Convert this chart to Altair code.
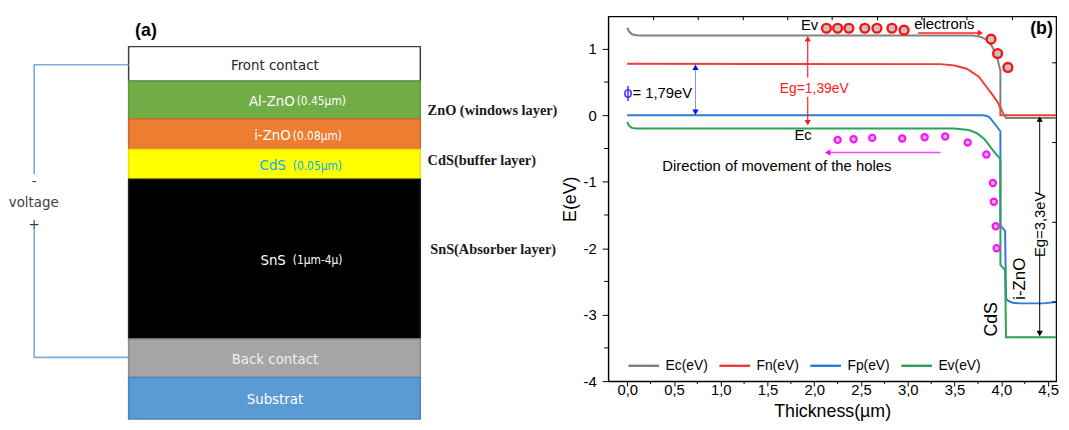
import altair as alt
import pandas as pd

FONT = "Liberation Sans"
NARROW = "Liberation Sans Narrow, DejaVu Sans Condensed, Roboto Condensed, Liberation Sans"
SERIF = "Liberation Serif"

# ------------------------------------------------------------------
# Panel (b): band diagram values
# ------------------------------------------------------------------
series_names = ["Ec(eV)", "Fn(eV)", "Fp(eV)", "Ev(eV)"]
series_colors = ["#808080", "#f03c3c", "#2f7bdc", "#2ea05a"]

ec_x = [0.0, 0.02, 0.05, 0.10, 0.15, 3.70, 3.78, 3.84, 3.90, 3.95, 3.99, 3.99, 4.02, 4.05, 4.585]
ec_y = [1.32, 1.26, 1.22, 1.205, 1.20, 1.20, 1.18, 1.14, 1.04, 0.90, 0.67, 0.13, 0.03, -0.04, -0.04]

fn_x = [0.0, 3.35, 3.50, 3.63, 3.76, 3.84, 3.91, 3.97, 3.99, 3.99, 4.585]
fn_y = [0.775, 0.77, 0.75, 0.70, 0.58, 0.43, 0.30, 0.18, 0.10, 0.0, 0.0]

fp_x = [0.0, 3.80, 3.85, 3.88, 3.99, 3.99, 4.04, 4.05, 4.07, 4.12, 4.20, 4.45, 4.585]
fp_y = [0.0, 0.0, -0.01, -0.04, -0.24, -1.66, -1.74, -2.75, -2.79, -2.82, -2.83, -2.83, -2.81]

ev_x = [0.0, 0.02, 0.05, 0.10, 0.15, 3.50, 3.65, 3.74, 3.82, 3.88, 3.94, 3.99, 3.99, 4.04, 4.05, 4.585]
ev_y = [-0.10, -0.16, -0.19, -0.20, -0.20, -0.20, -0.22, -0.27, -0.36, -0.47, -0.58, -0.66, -2.25, -2.33, -3.34, -3.34]

electron_x = [2.13, 2.25, 2.37, 2.54, 2.67, 2.83, 2.96, 3.89, 3.96, 4.07]
electron_y = [1.31, 1.31, 1.31, 1.31, 1.31, 1.31, 1.28, 1.146, 0.93, 0.72]

hole_x = [2.25, 2.42, 2.62, 2.94, 3.18, 3.40, 3.64, 3.84, 3.91, 3.92, 3.94, 3.95]
hole_y = [-0.37, -0.36, -0.34, -0.35, -0.33, -0.32, -0.41, -0.59, -1.02, -1.30, -1.67, -2.0]

x_major = [0.0, 0.5, 1.0, 1.5, 2.0, 2.5, 3.0, 3.5, 4.0, 4.5]
x_minor = [0.25, 0.75, 1.25, 1.75, 2.25, 2.75, 3.25, 3.75, 4.25]
y_major = [-4, -3, -2, -1, 0, 1]
y_minor = [-3.5, -2.5, -1.5, -0.5, 0.5]
top_ticks = [0.282, 0.759, 1.241, 1.716, 2.191, 2.676, 3.151, 3.633, 4.118]
right_ticks = [0.79, -0.41, -1.61, -2.81]

# annotations (text, x, y, colour, size)
labels_b = [
    ("Ev", 1.95, 1.36, "black", 15),
    ("Ec", 1.88, -0.29, "black", 15),
    ("Eg=1,39eV", 2.00, 0.39, "#ff2020", 14),
    ("electrons", 3.39, 1.37, "black", 15),
    ("Direction of movement of the holes", 1.60, -0.77, "black", 15),
    ("= 1,79eV", 0.375, 0.34, "black", 15),
    ("\u03d5", 0.008, 0.34, "#1a1aff", 16),
]
labels_b_rot = [
    ("Eg=3,3eV", 4.41, -1.64, "black", 15),
    ("i-ZnO", 4.195, -2.46, "black", 17),
    ("CdS", 3.90, -3.07, "black", 18),
]
# arrow shafts (x, y, x2, y2, colour, width)
shafts = [
    (1.93, 1.17, 1.93, 0.57, "#ff2020", 1.2),
    (1.93, 0.28, 1.93, -0.12, "#ff2020", 1.2),
    (0.73, 0.74, 0.73, 0.03, "#8090ff", 1.0),
    (4.41, -0.03, 4.41, -1.19, "black", 1.0),
    (4.41, -2.10, 4.41, -3.31, "black", 1.0),
    (3.11, 1.24, 3.76, 1.24, "#ff2020", 1.5),
    (2.15, -0.56, 3.35, -0.56, "#ff44ff", 1.5),
]
# arrow tips (x, y, direction, colour)
tips = [
    (1.93, 1.20, "up", "#ff2020"),
    (1.93, -0.16, "down", "#ff2020"),
    (0.73, 0.77, "up", "#0010ff"),
    (0.73, 0.00, "down", "#0010ff"),
    (4.41, -0.01, "up", "black"),
    (4.41, -3.33, "down", "black"),
    (3.81, 1.24, "right", "#ff2020"),
    (2.11, -0.56, "left", "#ff00ff"),
]

# ------------------------------------------------------------------
# Panel (b) chart
# ------------------------------------------------------------------
XMIN, XMAX = -0.2036, 4.585
YMIN, YMAX = -4.0, 1.49
WB, HB = 453, 369
PX_X = WB / (XMAX - XMIN)
PX_Y = HB / (YMAX - YMIN)

xsc = alt.Scale(domain=[XMIN, XMAX], nice=False, zero=False)
ysc = alt.Scale(domain=[YMIN, YMAX], nice=False, zero=False)

AX_X = alt.Axis(
    values=x_major,
    labelExpr="replace(format(datum.value, '.1f'), '.', ',')",
    title="Thickness(\u00b5m)",
    titleFontSize=18,
    titleFontWeight="normal",
    titleFont=FONT,
    titleColor="black",
    titlePadding=5,
    labelFontSize=15,
    labelFont=FONT,
    labelColor="black",
    labelPadding=-3,
    tickSize=5,
    tickColor="black",
    domainColor="black",
    domainWidth=1.2,
    grid=False,
    labelFlush=False,
    labelOverlap=False,
)
AX_Y = alt.Axis(
    values=y_major,
    labelExpr="'' + datum.value",
    title="E(eV)",
    titleFontSize=18,
    titleFontWeight="normal",
    titleFont=FONT,
    titleColor="black",
    titlePadding=4,
    labelFontSize=15,
    labelFont=FONT,
    labelColor="black",
    labelPadding=6,
    tickSize=6,
    tickColor="black",
    domainColor="black",
    domainWidth=1.2,
    grid=False,
    labelFlush=False,
    labelOverlap=False,
)


def X(field="x"):
    return alt.X(f"{field}:Q", scale=xsc, axis=AX_X)


def Y(field="y"):
    return alt.Y(f"{field}:Q", scale=ysc, axis=AX_Y)


bands = pd.concat(
    [
        pd.DataFrame({"x": xs, "y": ys, "s": n, "i": range(len(xs))})
        for n, xs, ys in zip(series_names, [ec_x, fn_x, fp_x, ev_x], [ec_y, fn_y, fp_y, ev_y])
    ],
    ignore_index=True,
)

lines = alt.Chart(bands).mark_line(strokeWidth=2).encode(
    x=X(),
    y=Y(),
    color=alt.Color(
        "s:N",
        scale=alt.Scale(domain=series_names, range=series_colors),
        legend=alt.Legend(
            orient="none",
            legendX=624,
            legendY=336.5,
            direction="horizontal",
            symbolType="stroke",
            symbolSize=961,
            symbolStrokeWidth=2.5,
            labelFontSize=14,
            labelFont=FONT,
            labelColor="black",
            labelOffset=5,
            columnPadding=6,
            padding=0,
            title=None,
        ),
    ),
    order="i:Q",
)

# minor / mirrored ticks drawn as rules
xminor_df = pd.DataFrame({"x": x_minor, "y": YMIN, "y2": YMIN - 3 / PX_Y})
yminor_df = pd.DataFrame({"y": y_minor, "x": XMIN, "x2": XMIN - 4 / PX_X})
top_df = pd.DataFrame({"x": top_ticks, "y": YMAX, "y2": YMAX - 4 / PX_Y})
right_df = pd.DataFrame({"y": right_ticks, "x": XMAX, "x2": XMAX - 4 / PX_X})

tick_rules = [
    alt.Chart(xminor_df).mark_rule(color="black", strokeWidth=1).encode(x=X(), y=Y(), y2="y2:Q"),
    alt.Chart(top_df).mark_rule(color="black", strokeWidth=1).encode(x=X(), y=Y(), y2="y2:Q"),
    alt.Chart(yminor_df).mark_rule(color="black", strokeWidth=1).encode(y=Y(), x=X(), x2="x2:Q"),
    alt.Chart(right_df).mark_rule(color="black", strokeWidth=1).encode(y=Y(), x=X(), x2="x2:Q"),
]

electrons = alt.Chart(pd.DataFrame({"x": electron_x, "y": electron_y})).mark_point(
    shape="circle", filled=True, color="#c4c4c4", stroke="#ff1010", strokeWidth=2.4, size=80, opacity=1
).encode(x=X(), y=Y())

holes = alt.Chart(pd.DataFrame({"x": hole_x, "y": hole_y})).mark_point(
    shape="circle", filled=True, color="#c4c4c4", stroke="#ff10ff", strokeWidth=2.2, size=40, opacity=1
).encode(x=X(), y=Y())

shaft_df = pd.DataFrame(shafts, columns=["x", "y", "x2", "y2", "c", "w"])
shaft_layer = alt.Chart(shaft_df).mark_rule().encode(
    x=X(), y=Y(), x2="x2:Q", y2="y2:Q",
    color=alt.Color("c:N", scale=None),
    strokeWidth=alt.StrokeWidth("w:Q", scale=None),
)

TIP_SIZE = 40
R = (TIP_SIZE ** 0.5) / 2
tip_rows = []
for tx, ty, d, c in tips:
    if d == "up":
        tip_rows.append((tx, ty - R / PX_Y, "triangle-up", c))
    elif d == "down":
        tip_rows.append((tx, ty + R / PX_Y, "triangle-down", c))
    elif d == "right":
        tip_rows.append((tx - R / PX_X, ty, "triangle-right", c))
    else:
        tip_rows.append((tx + R / PX_X, ty, "triangle-left", c))
tip_df = pd.DataFrame(tip_rows, columns=["x", "y", "shape", "c"])
tip_layer = alt.Chart(tip_df).mark_point(filled=True, size=TIP_SIZE, opacity=1).encode(
    x=X(), y=Y(),
    shape=alt.Shape("shape:N", scale=None),
    color=alt.Color("c:N", scale=None),
)

lab_df = pd.DataFrame(labels_b, columns=["t", "x", "y", "c", "s"])
lab_layer = alt.Chart(lab_df).mark_text(font=FONT).encode(
    x=X(), y=Y(), text="t:N",
    color=alt.Color("c:N", scale=None),
    size=alt.Size("s:Q", scale=None),
)
rot_df = pd.DataFrame(labels_b_rot, columns=["t", "x", "y", "c", "s"])
rot_layer = alt.Chart(rot_df).mark_text(font=FONT, angle=270).encode(
    x=X(), y=Y(), text="t:N",
    color=alt.Color("c:N", scale=None),
    size=alt.Size("s:Q", scale=None),
)
b_label = alt.Chart(pd.DataFrame({"t": ["(b)"], "x": [4.43], "y": [1.295]})).mark_text(
    font=FONT, fontWeight="bold", fontSize=18, color="black"
).encode(x=X(), y=Y(), text="t:N")

panel_b = alt.layer(
    lines, *tick_rules, shaft_layer, tip_layer, electrons, holes, lab_layer, rot_layer, b_label
).properties(
    width=WB, height=HB,
    view=alt.ViewBackground(stroke="black", strokeWidth=1.2),
)

# ------------------------------------------------------------------
# Panel (a): device stack schematic
# ------------------------------------------------------------------
layer_names = ["Front contact", "Al-ZnO", "i-ZnO", "CdS", "SnS", "Back contact", "Substrat"]
layer_heights = [35, 38, 31, 30, 161.6, 39, 42]
layer_fill = ["#ffffff", "#70ad47", "#ed7d31", "#ffff00", "#000000", "#a5a5a5", "#5b9bd5"]
layer_edge = ["#3f3f3f", "#5e9a3a", "#c9692a", "#e6e600", "#202020", "#8c8c8c", "#4a84bd"]

WA, HA = 552, 410
BOX_L, BOX_R = 120, 415
STACK_TOP = 30.7
tops, bots = [], []
cur = STACK_TOP
for h in layer_heights:
    tops.append(cur)
    cur += h
    bots.append(cur)
stack_df = pd.DataFrame({
    "name": layer_names, "l": BOX_L, "r": BOX_R, "top": tops, "bot": bots,
    "fill": layer_fill, "edge": layer_edge,
})

xa = alt.Scale(domain=[0, WA], nice=False, zero=False)
ya = alt.Scale(domain=[0, HA], nice=False, zero=False, reverse=True)


def XA(field="x"):
    return alt.X(f"{field}:Q", scale=xa, axis=None)


def YA(field="y"):
    return alt.Y(f"{field}:Q", scale=ya, axis=None)


rects = alt.Chart(stack_df).mark_rect(strokeWidth=1.5).encode(
    x=XA("l"), x2="r:Q", y=YA("top"), y2="bot:Q",
    fill=alt.Fill("fill:N", scale=None),
    stroke=alt.Stroke("edge:N", scale=None),
)

WIRE_X = 24.5
wire_top = tops[0] + layer_heights[0] / 2 + 0.8
wire_bot = tops[5] + layer_heights[5] / 2 - 0.8
wire_df = pd.DataFrame({
    "x": [BOX_L, WIRE_X, WIRE_X, WIRE_X, WIRE_X, BOX_L],
    "y": [wire_top, wire_top, 159.7, 214.7, wire_bot, wire_bot],
    "seg": [0, 0, 0, 1, 1, 1],
    "i": [0, 1, 2, 0, 1, 2],
})
wire = alt.Chart(wire_df).mark_line(color="#7aaee0", strokeWidth=1.6).encode(
    x=XA(), y=YA(), detail="seg:N", order="i:Q"
)

# (text, x, y, size, colour, align)
texts_a = [
    ("Front contact", 268, 49, 15, "#262626", "center"),
    ("Al-ZnO", 288, 85.3, 15, "white", "right"),
    ("(0.45\u00b5m)", 290, 86, 12, "white", "left"),
    ("i-ZnO", 284, 120.3, 15, "white", "right"),
    ("(0.08\u00b5m)", 286, 121, 12, "white", "left"),
    ("CdS", 279, 150.3, 15, "#00b0f0", "right"),
    ("(0.05\u00b5m)", 286, 151, 12, "#00b0f0", "left"),
    ("SnS", 279, 246.3, 15, "white", "right"),
    ("(1\u00b5m-4\u00b5)", 286, 247, 12, "white", "left"),
    ("Back contact", 268, 346.3, 15, "#f0f0f0", "center"),
    ("Substrat", 268, 387, 15, "white", "center"),
    ("-", 24.5, 166.3, 15, "#404040", "center"),
    ("voltage", 24, 188, 15, "#404040", "center"),
    ("+", 24.5, 209.7, 15, "#404040", "center"),
]
ta = pd.DataFrame(texts_a, columns=["t", "x", "y", "s", "c", "a"])
text_layers_a = []
for al in ["center", "right", "left"]:
    sub = ta[ta["a"] == al]
    text_layers_a.append(
        alt.Chart(sub).mark_text(font=NARROW, align=al).encode(
            x=XA(), y=YA(), text="t:N",
            size=alt.Size("s:Q", scale=None),
            color=alt.Color("c:N", scale=None),
        )
    )

side_labels = ["ZnO (windows layer)", "CdS(buffer layer)", "SnS(Absorber layer)"]
side_df = pd.DataFrame({"t": side_labels, "x": [422.4, 422.4, 425], "y": [96.3, 146.3, 236.3]})
side = alt.Chart(side_df).mark_text(
    font=SERIF, fontWeight="bold", fontSize=14.5, align="left", color="#1a1a1a"
).encode(x=XA(), y=YA(), text="t:N")

a_label = alt.Chart(pd.DataFrame({"t": ["(a)"], "x": [137.5], "y": [15]})).mark_text(
    font=FONT, fontWeight="bold", fontSize=18, color="black"
).encode(x=XA(), y=YA(), text="t:N")

panel_a = alt.layer(rects, wire, *text_layers_a, side, a_label).properties(
    width=WA, height=HA,
    view=alt.ViewBackground(strokeOpacity=0),
)

# flush bounds: panels are placed by their plot areas only
chart = alt.hconcat(panel_a, panel_b, spacing=53, bounds="flush").properties(
    padding={"left": 0, "top": 4, "right": 0, "bottom": 0},
    background="white",
).configure(font=FONT)

chart.save("out.html", embed_options={"renderer": "svg", "actions": False})
